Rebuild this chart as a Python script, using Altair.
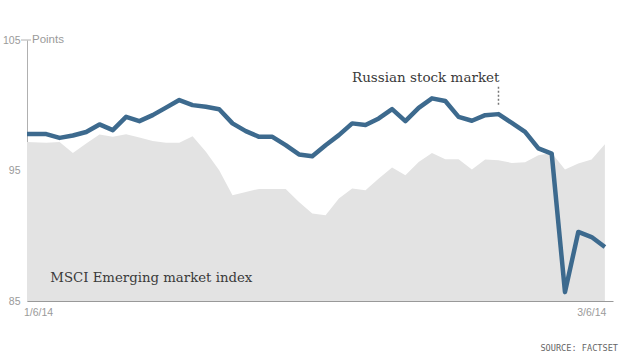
import altair as alt
import pandas as pd

# Trading days: 1/3/14 (clipped at the left edge), then 1/6/14 ... 3/6/14
dates = [d.strftime("%-m/%-d/%y") for d in pd.bdate_range("2014-01-03", "2014-03-06")]

russia = [97.79, 97.79, 97.79, 97.50, 97.68, 97.95, 98.53, 98.09, 99.11, 98.78,
          99.24, 99.82, 100.40, 100.01, 99.88, 99.70, 98.61, 98.02, 97.58, 97.58,
          96.94, 96.23, 96.10, 96.94, 97.71, 98.61, 98.48, 98.99, 99.70, 98.78,
          99.80, 100.53, 100.32, 99.11, 98.81, 99.24, 99.32, 98.65, 97.96, 96.69,
          96.30, 85.68, 90.29, 89.90, 89.14]

msci = [97.19, 97.17, 97.12, 97.19, 96.35, 97.07, 97.76, 97.58, 97.77, 97.52,
        97.27, 97.12, 97.12, 97.63, 96.43, 95.02, 93.10, 93.36, 93.59, 93.59,
        93.59, 92.59, 91.70, 91.57, 92.85, 93.62, 93.49, 94.39, 95.23, 94.64,
        95.66, 96.35, 95.87, 95.87, 95.08, 95.84, 95.79, 95.58, 95.64, 96.17,
        96.35, 95.08, 95.54, 95.84, 97.02]

y_ticks = [85, 95, 105]
x_labels = ["1/6/14", "3/6/14"]

df = pd.DataFrame({"k": list(range(len(dates))), "date": dates,
                   "russia": russia, "msci": msci})

W, H = 586, 261
SANS = "Liberation Sans Narrow, Liberation Sans, sans-serif"
SERIF = "DejaVu Serif"
GREY = "#9a9a9a"

xscale = alt.Scale(domain=[0.55, 44.61], nice=False, zero=False)
yscale = alt.Scale(domain=[85, 105], nice=False, zero=False)

area = alt.Chart(df).mark_area(color="#e3e3e3", clip=True).encode(
    x=alt.X("k:Q", scale=xscale,
            axis=alt.Axis(title=None, labels=False, ticks=False, grid=False,
                          domainColor="#999", domainWidth=1)),
    y=alt.Y("msci:Q", scale=yscale,
            axis=alt.Axis(values=y_ticks, title=None, ticks=False, grid=False,
                          domainColor="#b0b0b0", domainWidth=1,
                          labelColor=GREY, labelFont=SANS, labelFontSize=10.5,
                          labelPadding=7)),
    y2=alt.datum(85),
)

line = alt.Chart(df).mark_line(color="#3d6a8e", strokeWidth=4.5,
                               strokeJoin="round", clip=True).encode(
    x=alt.X("k:Q", scale=xscale),
    y=alt.Y("russia:Q", scale=yscale),
)

top_tick = alt.Chart(pd.DataFrame({"v": [y_ticks[-1]], "a": [0.10], "b": [0.85]})).mark_rule(
    color="#b0b0b0", strokeWidth=1).encode(
    y=alt.Y("v:Q", scale=yscale), x=alt.X("a:Q", scale=xscale), x2="b:Q")

points_lbl = alt.Chart(pd.DataFrame({"v": [y_ticks[-1]], "t": ["Points"]})).mark_text(
    align="left", baseline="middle", font=SANS, fontSize=11.5, color=GREY).encode(
    y=alt.Y("v:Q", scale=yscale), x=alt.value(5), text="t:N")

leader = alt.Chart(pd.DataFrame({"k": [36], "a": [101.42], "b": [99.88]})).mark_rule(
    color="#777", strokeWidth=1.5, strokeDash=[2, 2]).encode(
    x=alt.X("k:Q", scale=xscale), y=alt.Y("a:Q", scale=yscale), y2="b:Q")

russia_lbl = alt.Chart(pd.DataFrame({"k": [36], "v": [101.75], "t": ["Russian stock market"]})).mark_text(
    align="right", baseline="alphabetic", font=SERIF, fontSize=13.5, color="#3a3a3a", dx=1).encode(
    x=alt.X("k:Q", scale=xscale), y=alt.Y("v:Q", scale=yscale), text="t:N")

msci_lbl = alt.Chart(pd.DataFrame({"k": [2.3], "v": [86.43], "t": ["MSCI Emerging market index"]})).mark_text(
    align="left", baseline="alphabetic", font=SERIF, fontSize=13.3, color="#3a3a3a").encode(
    x=alt.X("k:Q", scale=xscale), y=alt.Y("v:Q", scale=yscale), text="t:N")

xl_left = alt.Chart(pd.DataFrame({"t": [x_labels[0]]})).mark_text(
    align="left", baseline="middle", font=SANS, fontSize=10.5, color=GREY).encode(
    x=alt.value(-3), y=alt.value(H + 12), text="t:N")

xl_right = alt.Chart(pd.DataFrame({"k": [44], "t": [x_labels[1]]})).mark_text(
    align="right", baseline="middle", font=SANS, fontSize=10.5, color=GREY, dx=1.5).encode(
    x=alt.X("k:Q", scale=xscale), y=alt.value(H + 12), text="t:N")

source = alt.Chart(pd.DataFrame({"t": ["SOURCE: FACTSET"]})).mark_text(
    align="right", baseline="middle", font="DejaVu Sans Mono", fontSize=8.6, color="#666").encode(
    x=alt.value(W + 5), y=alt.value(H + 47), text="t:N")

chart = alt.layer(area, line, top_tick, points_lbl, leader, russia_lbl, msci_lbl,
                  xl_left, xl_right, source).properties(
    width=W, height=H,
    autosize=alt.AutoSizeParams(type="none"),
    padding={"left": 27, "top": 40, "right": 7, "bottom": 51},
).configure(background="white").configure_view(stroke=None)

chart.save("out.html", embed_options={"renderer": "svg", "actions": False})
